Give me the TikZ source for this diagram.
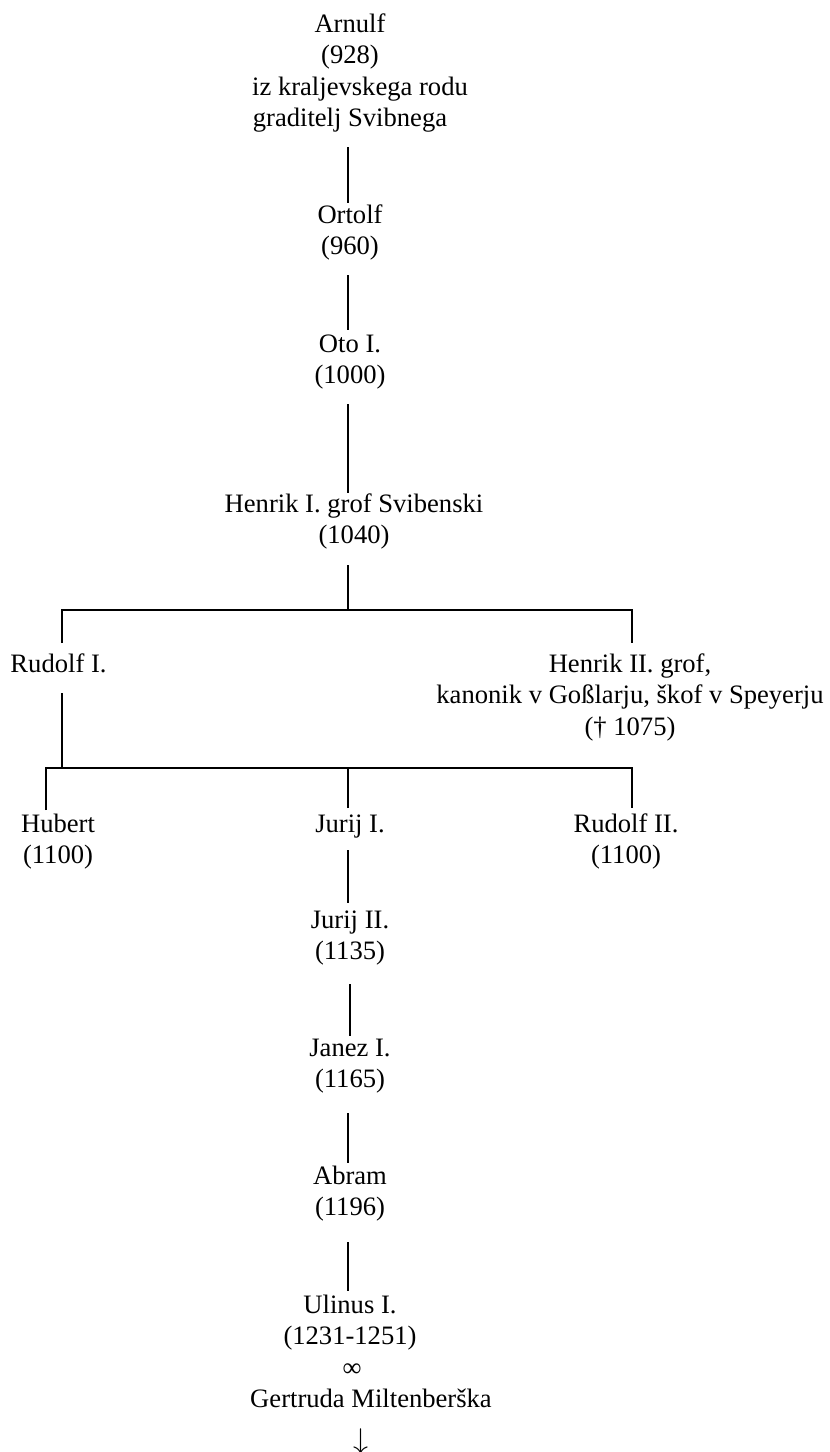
\documentclass[tikz,border=0pt]{standalone}
\usepackage{graphicx}
\usepackage{fontspec}
\setmainfont{Liberation Serif}
\begin{document}
\begin{tikzpicture}[x=1pt,y=-1pt,
  person/.style={align=center,anchor=base,inner sep=0pt,font=\fontsize{26.6}{31.5}\selectfont},
  link/.style={line width=2.5pt,line join=miter}]
\useasboundingbox (0,0) rectangle (830,1452);
% persons (anchor = baseline of the last line)
\node[person] (arnulf) at (350,126.5) {Arnulf\\(928)\\\hspace*{20pt}iz kraljevskega rodu\\graditelj Svibnega};
\node[person] (ortolf) at (350,254.5) {Ortolf\\(960)};
\node[person] (oto) at (350,383.5) {Oto I.\\(1000)};
\node[person] (henrik1) at (354,543.5) {Henrik I. grof Svibenski\\(1040)};
\node[person] (rudolf1) at (58.5,672) {Rudolf I.};
\node[person] (henrik2) at (630,735) {Henrik II. grof,\\kanonik v Goßlarju, škof v Speyerju\\(† 1075)};
\node[person] (hubert) at (58,863.5) {Hubert\\(1100)};
\node[person] (jurij1) at (350,832) {Jurij I.};
\node[person] (rudolf2) at (626,863.5) {Rudolf II.\\(1100)};
\node[person] (jurij2) at (350,959.5) {Jurij II.\\(1135)};
\node[person] (janez) at (350,1087.5) {Janez I.\\(1165)};
\node[person] (abram) at (350,1215.5) {Abram\\(1196)};
\node[person] (ulinus) at (350,1449.5) {Ulinus I.\\(1231-1251)\\\hspace*{4pt}∞\\\hspace*{42pt}Gertruda Miltenberška\\[10.5pt]\hspace*{22pt}{\fontsize{10}{12}\selectfont\scalebox{3}{$\downarrow$}}};
% junction coordinates
\coordinate (a1) at (348,147); \coordinate (o0) at (348,203);
\coordinate (o1) at (348,275); \coordinate (t0) at (348,330);
\coordinate (t1) at (348,404); \coordinate (h0) at (348,493);
\coordinate (h1) at (348,565); \coordinate (busA) at (348,610);
\coordinate (r0) at (62,643); \coordinate (k0) at (632,643);
\coordinate (r1) at (62,693); \coordinate (busB) at (62,768);
\coordinate (hb0) at (46,810); \coordinate (j0) at (348,808); \coordinate (rr0) at (632,808);
\coordinate (j1) at (348,850); \coordinate (j20) at (348,903);
\coordinate (j21) at (350,984); \coordinate (jn0) at (350,1036);
\coordinate (jn1) at (348,1113); \coordinate (ab0) at (348,1163);
\coordinate (ab1) at (348,1242); \coordinate (u0) at (348,1291);
% connectors
\draw[link] (a1) -- (o0);
\draw[link] (o1) -- (t0);
\draw[link] (t1) -- (h0);
\draw[link] (h1) -- (busA);
\draw[link] (r0) |- (busA) -| (k0);
\draw[link] (r1) -- (busB);
\draw[link] (hb0) |- (busB) -| (rr0);
\draw[link] (j0) -- (j0 |- busB);
\draw[link] (j1) -- (j20);
\draw[link] (j21) -- (jn0);
\draw[link] (jn1) -- (ab0);
\draw[link] (ab1) -- (u0);
\end{tikzpicture}
\end{document}
